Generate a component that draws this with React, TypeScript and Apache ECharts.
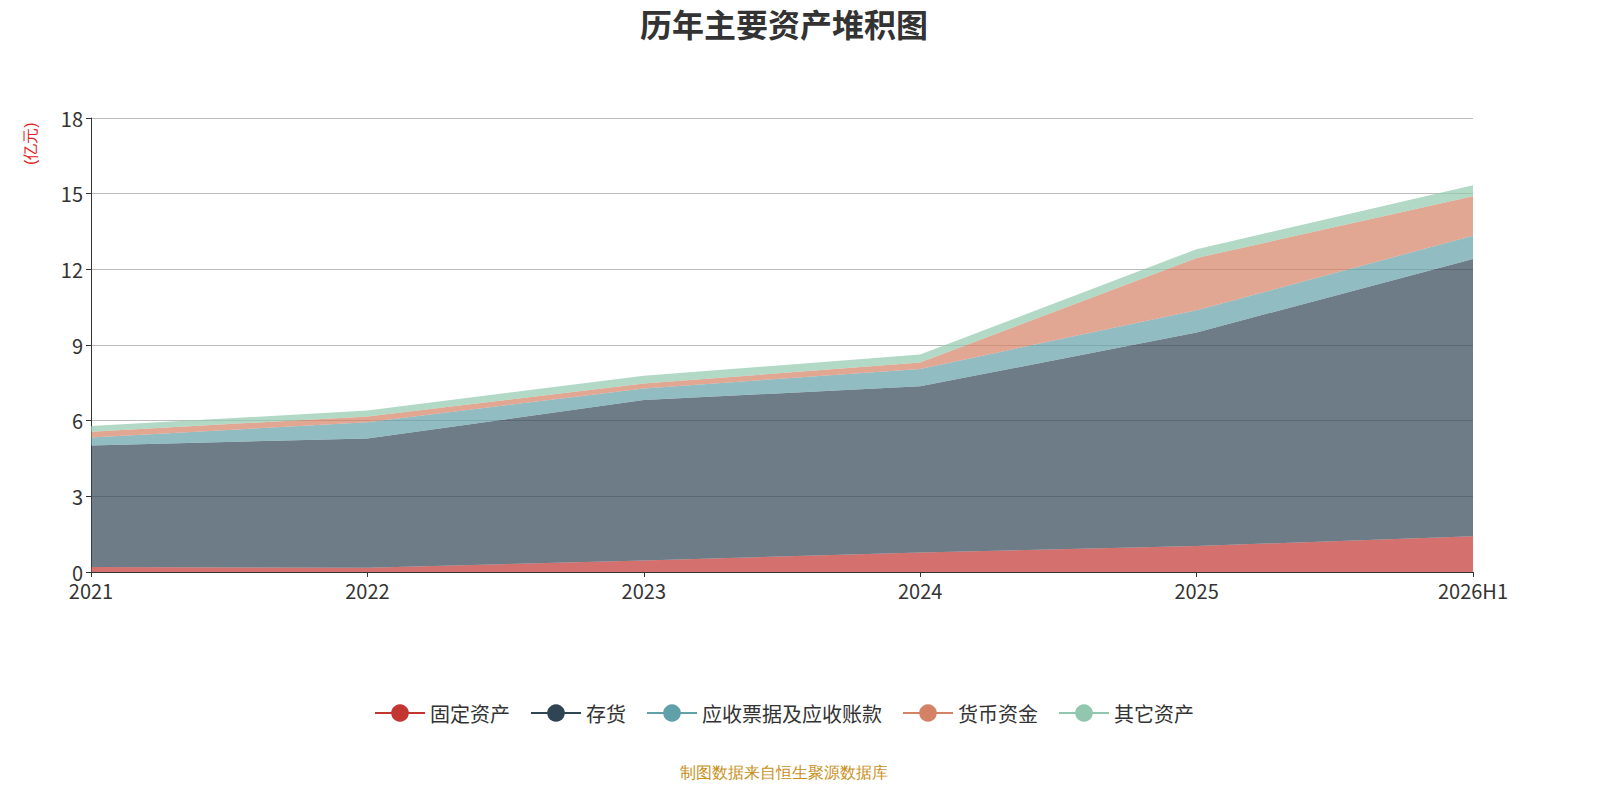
import React, { useEffect, useRef } from "react";
import * as echarts from "echarts";

const categories = ["2021", "2022", "2023", "2024", "2025", "2026H1"];
const fixedAssets = [0.2, 0.17, 0.46, 0.77, 1.03, 1.42];
const inventory = [4.82, 5.12, 6.36, 6.59, 8.47, 10.99];
const receivables = [0.31, 0.65, 0.46, 0.69, 0.88, 0.92];
const cash = [0.23, 0.23, 0.19, 0.26, 2.07, 1.57];
const others = [0.23, 0.23, 0.31, 0.31, 0.35, 0.43];
const yTicks = [0, 3, 6, 9, 12, 15, 18];

const seriesDefs = [
  { name: "固定资产", data: fixedAssets, color: "#c23531" },
  { name: "存货", data: inventory, color: "#2f4554" },
  { name: "应收票据及应收账款", data: receivables, color: "#61a0a8" },
  { name: "货币资金", data: cash, color: "#d48265" },
  { name: "其它资产", data: others, color: "#91c7ae" },
];

export default function App() {
  const ref = useRef<HTMLDivElement>(null);
  useEffect(() => {
    document.body.style.margin = "0";
    const chart = echarts.init(ref.current!, null, { renderer: "svg" });
    chart.setOption({
      animation: false,
      textStyle: { fontFamily: "Noto Sans CJK SC" },
      title: {
        text: "历年主要资产堆积图",
        left: "center",
        top: 2,
        textStyle: { fontSize: 32, fontWeight: "bold", color: "#333" },
      },
      graphic: [
        {
          type: "text",
          left: "center",
          top: 764,
          style: { text: "制图数据来自恒生聚源数据库", fill: "#c8901a", fontSize: 16 },
        },
        {
          type: "text",
          x: 22,
          y: 165,
          rotation: Math.PI / 2,
          style: { text: "(亿元)", fill: "#e02020", fontSize: 16 },
        },
      ],
      legend: {
        bottom: 56,
        itemWidth: 50,
        itemHeight: 22,
        itemGap: 20,
        lineStyle: { width: 2 },
        textStyle: { fontSize: 20, color: "#333" },
        data: seriesDefs.map((s) => s.name),
      },
      grid: { left: 91, right: 95, top: 118, bottom: 212 },
      xAxis: {
        type: "category",
        boundaryGap: false,
        data: categories,
        axisLine: { lineStyle: { color: "#333" } },
        axisTick: { lineStyle: { color: "#333" } },
        axisLabel: { fontSize: 20, color: "#333", interval: 0 },
      },
      yAxis: {
        type: "value",
        min: yTicks[0],
        max: yTicks[yTicks.length - 1],
        interval: 3,
        axisLine: { show: true, lineStyle: { color: "#333" } },
        axisTick: { show: true },
        axisLabel: { fontSize: 20, color: "#333" },
        splitLine: { lineStyle: { color: "#bbb" } },
      },
      series: seriesDefs.map((s) => ({
        name: s.name,
        type: "line",
        stack: "total",
        data: s.data,
        color: s.color,
        symbol: "circle",
        showSymbol: false,
        symbolSize: 22,
        lineStyle: { width: 0 },
        areaStyle: { opacity: 0.7 },
      })),
    });
    return () => chart.dispose();
  }, []);
  return <div ref={ref} style={{ width: 1568, height: 784 }} />;
}
